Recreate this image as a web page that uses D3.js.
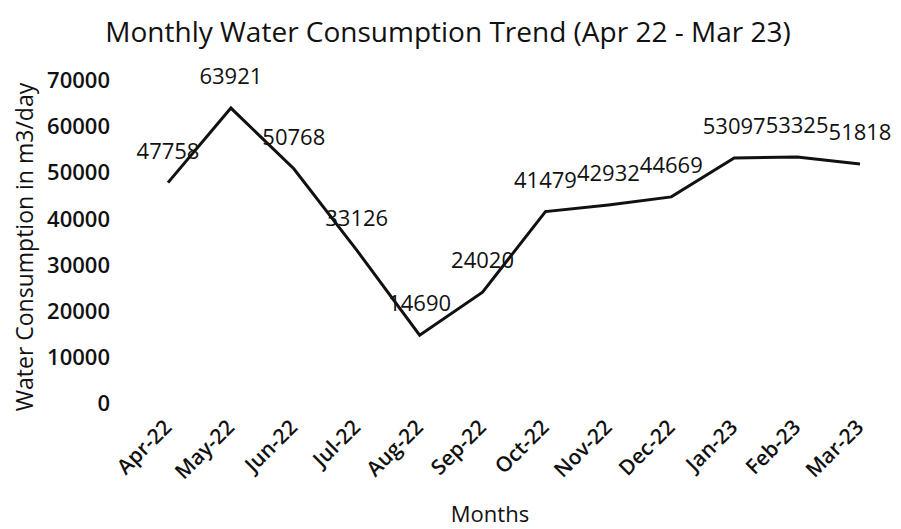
<!DOCTYPE html>
<html>
<head>
<meta charset="utf-8">
<script src="https://cdn.jsdelivr.net/npm/d3@7"></script>
<style>
  body { margin: 0; background: #fff; }
  svg { display: block; }
  text { font-family: "Open Sans", "Noto Sans", sans-serif; fill: #111; }
</style>
</head>
<body>
<svg id="chart" width="901" height="529"></svg>
<script>
const months = ["Apr-22","May-22","Jun-22","Jul-22","Aug-22","Sep-22","Oct-22","Nov-22","Dec-22","Jan-23","Feb-23","Mar-23"];
const consumption = [47758, 63921, 50768, 33126, 14690, 24020, 41479, 42932, 44669, 53097, 53325, 51818];
const yTicks = [0, 10000, 20000, 30000, 40000, 50000, 60000, 70000];

const svg = d3.select("#chart");
const data = months.map((m, i) => ({ month: m, value: consumption[i] }));

const x = d3.scalePoint().domain(months).range([168, 860]);
const y = d3.scaleLinear().domain([0, 70000]).range([403, 80]);

// Title
svg.append("text")
  .attr("x", 448).attr("y", 42)
  .attr("text-anchor", "middle")
  .style("font-size", "28px")
  .text("Monthly Water Consumption Trend (Apr 22 - Mar 23)");

// Y axis (labels only)
const yAxis = d3.axisLeft(y).tickValues(yTicks).tickSize(0).tickPadding(0).tickFormat(d3.format("d"));
const gy = svg.append("g").attr("transform", "translate(110,0)").call(yAxis);
gy.select(".domain").remove();
gy.selectAll("text")
  .style("font-size", "22px").style("font-weight", "600")
  .style("font-family", "'Open Sans', sans-serif").attr("fill", "#111")
  .attr("dy", "0.35em");

// X axis (labels only)
const xAxis = d3.axisBottom(x).tickSize(0).tickPadding(0);
const gx = svg.append("g").attr("transform", "translate(0,418)").call(xAxis);
gx.select(".domain").remove();
gx.selectAll("text")
  .style("font-size", "21px").style("font-weight", "600")
  .style("font-family", "'Open Sans', sans-serif").attr("fill", "#111")
  .attr("text-anchor", "end")
  .attr("dy", "0.7em")
  .attr("transform", "translate(-6,0) rotate(-45)");

// Axis titles
svg.append("text")
  .attr("transform", "translate(33,247) rotate(-90)")
  .attr("text-anchor", "middle")
  .style("font-size", "23px")
  .text("Water Consumption in m3/day");

svg.append("text")
  .attr("x", 490).attr("y", 522)
  .attr("text-anchor", "middle")
  .style("font-size", "22px")
  .text("Months");

// Line
const line = d3.line().x(d => x(d.month)).y(d => y(d.value));
svg.append("path")
  .datum(data)
  .attr("d", line)
  .attr("fill", "none")
  .attr("stroke", "#111")
  .attr("stroke-width", 3)
  .attr("stroke-linejoin", "miter");

// Data labels
svg.append("g").selectAll("text")
  .data(data).join("text")
  .attr("x", d => x(d.month))
  .attr("y", d => y(d.value) - 24)
  .attr("text-anchor", "middle")
  .style("font-size", "22px")
  .text(d => d.value);
</script>
</body>
</html>
